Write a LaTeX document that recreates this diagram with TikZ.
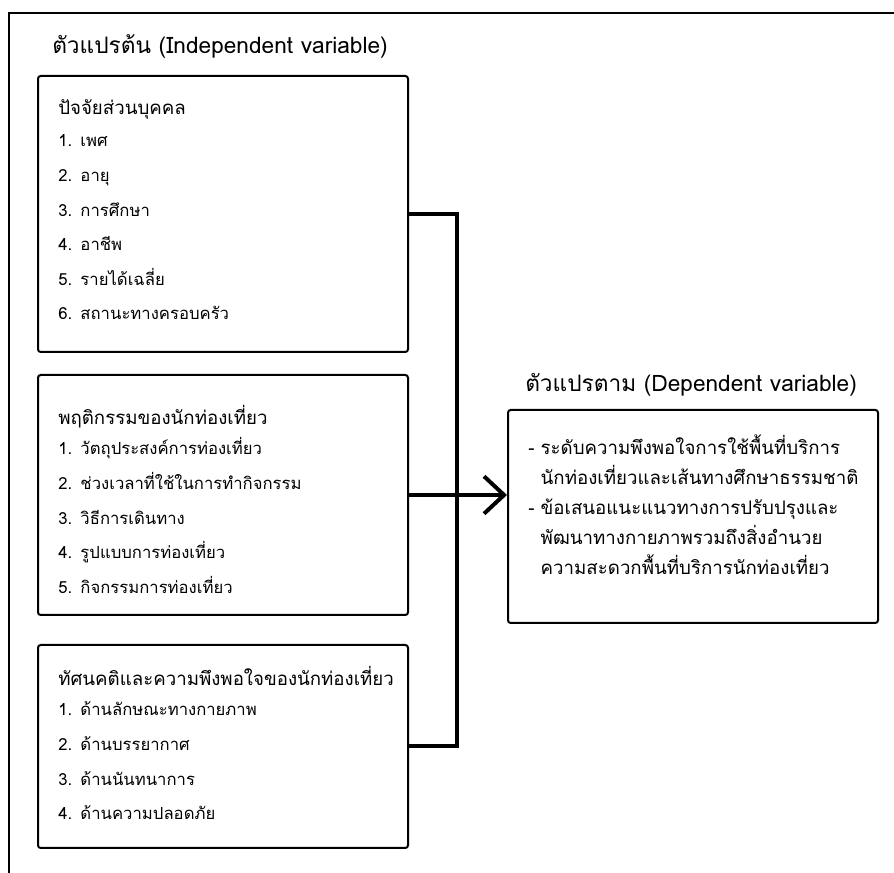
\documentclass[tikz,border=0pt]{standalone}
\usepackage{fontspec}
\setmainfont[Script=Thai]{Loma}
\usetikzlibrary{arrows.meta, positioning, fit}

\begin{document}
\begin{tikzpicture}[x=0.75pt, y=-0.75pt,
    varbox/.style={draw, line width=1.5pt, rounded corners=2pt, inner sep=0pt},
    heading/.style={anchor=base west, inner sep=0pt, font=\fontsize{17}{20}\selectfont},
    boxtitle/.style={anchor=base west, inner sep=0pt, font=\fontsize{14}{18}\selectfont},
    items/.style={anchor=base west, inner sep=0pt, align=left, text width=240pt, font=\fontsize{12.5}{25.9}\selectfont},
    outtext/.style={anchor=base west, inner sep=0pt, align=left, text width=260pt, font=\fontsize{14}{22.5}\selectfont},
    link/.style={line width=3pt}
]
\useasboundingbox (0,0) rectangle (894,873);

% page frame
\draw[line width=1.5pt] (9,873) -- (9,13) -- (894,13);

% independent variables
\node[heading] (indephead) at (52,54) {ตัวแปรต้น (Independent variable)};

\node[varbox, fit={(38,76) (408,352)}] (personal) {};
\node[boxtitle] (personaltitle) at (58,115) {ปัจจัยส่วนบุคคล};
\node[items] (personalitems) at (58,147) {1. เพศ\\ 2. อายุ\\ 3. การศึกษา\\ 4. อาชีพ\\ 5. รายได้เฉลี่ย\\ 6. สถานะทางครอบครัว};

\node[varbox, fit={(38,375) (408,615)}] (behaviour) {};
\node[boxtitle] (behaviourtitle) at (58,425) {พฤติกรรมของนักท่องเที่ยว};
\node[items] (behaviouritems) at (58,455) {1. วัตถุประสงค์การท่องเที่ยว\\ 2. ช่วงเวลาที่ใช้ในการทำกิจกรรม\\ 3. วิธีการเดินทาง\\ 4. รูปแบบการท่องเที่ยว\\ 5. กิจกรรมการท่องเที่ยว};

\node[varbox, fit={(38,645) (408,848)}] (attitude) {};
\node[boxtitle] (attitudetitle) at (58,686) {ทัศนคติและความพึงพอใจของนักท่องเที่ยว};
\node[items] (attitudeitems) at (58,716) {1. ด้านลักษณะทางกายภาพ\\ 2. ด้านบรรยากาศ\\ 3. ด้านนันทนาการ\\ 4. ด้านความปลอดภัย};

% dependent variable
\node[heading] (dephead) at (525,392) {ตัวแปรตาม (Dependent variable)};
\node[varbox, fit={(508,410) (878,623)}] (outcome) {};
\node[outtext] (outcometext) at (528,455) {- ระดับความพึงพอใจการใช้พื้นที่บริการ\\ \phantom{-\ }นักท่องเที่ยวและเส้นทางศึกษาธรรมชาติ\\ - ข้อเสนอแนะแนวทางการปรับปรุงและ\\ \phantom{-\ }พัฒนาทางกายภาพรวมถึงสิ่งอำนวย\\ \phantom{-\ }ความสะดวกพื้นที่บริการนักท่องเที่ยว};

% connectors
\coordinate (bus) at (457,495);
\draw[link] (personal.east) -| (bus) |- (attitude.east);
\draw[link, -{Straight Barb[length=15pt, width=28pt]}] (behaviour.east) -- (behaviour.east -| outcome.west);
\end{tikzpicture}
\end{document}
